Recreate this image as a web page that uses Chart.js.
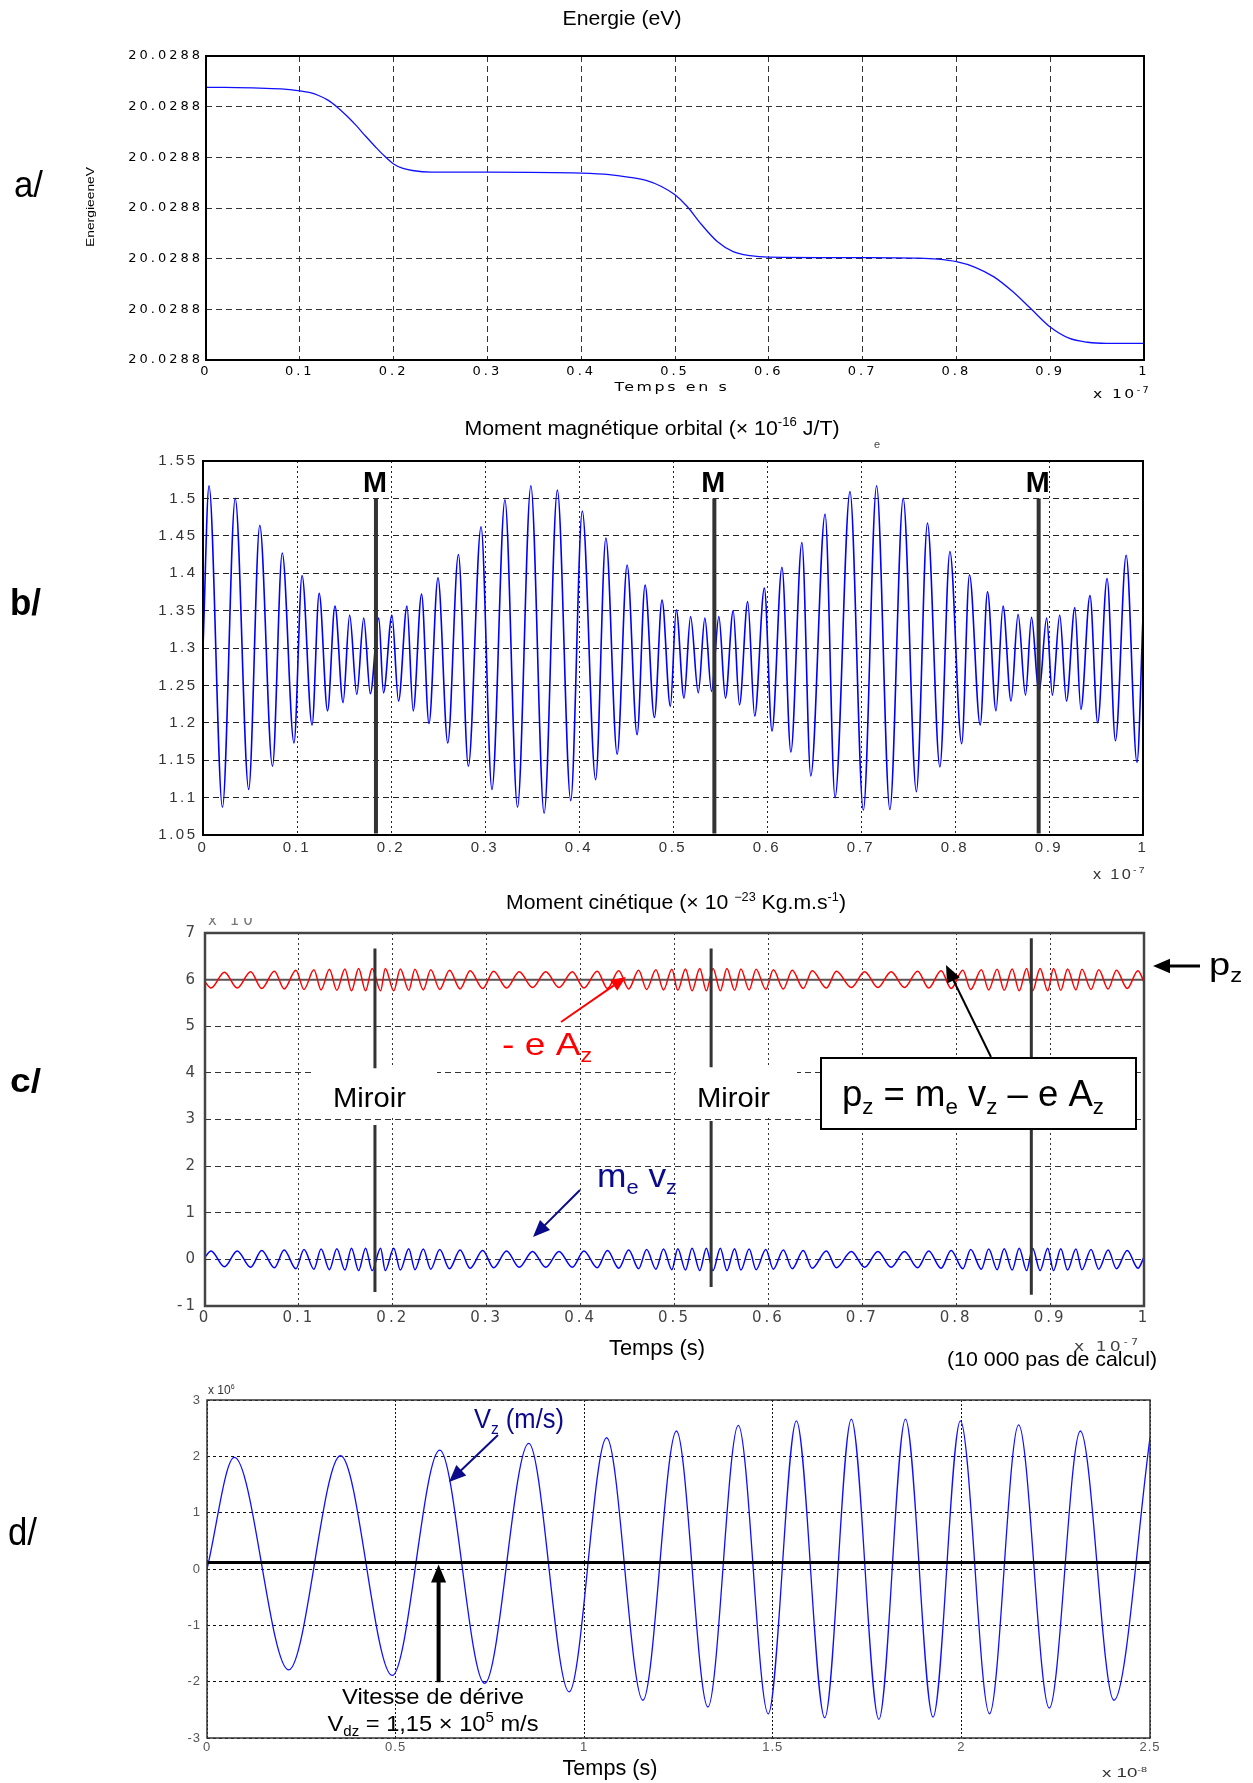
<!DOCTYPE html>
<html>
<head>
<meta charset="utf-8">
<script src="https://cdn.jsdelivr.net/npm/chart.js@4.4.1/dist/chart.umd.min.js"></script>
<style>
  html, body { margin: 0; padding: 0; background: #fff; }
  #page { position: relative; width: 1253px; height: 1783px; overflow: hidden; background: #fff; }
  canvas { position: absolute; left: 0; }
</style>
</head>
<body>
<div id="page">
  <canvas id="ca" width="1253" height="400" style="top:0px"></canvas>
  <canvas id="cb" width="1253" height="480" style="top:400px"></canvas>
  <canvas id="cc" width="1253" height="490" style="top:880px"></canvas>
  <canvas id="cd" width="1253" height="413" style="top:1370px"></canvas>
</div>
<script>
// ---- a/ Energie (levels between the 7 grid lines, all labelled 20.0288)
const energyTime = [0, 0.02, 0.05, 0.08, 0.1, 0.11, 0.12, 0.13, 0.14, 0.15,
  0.16, 0.17, 0.18, 0.19, 0.2, 0.21, 0.22, 0.24, 0.3, 0.4,
  0.43, 0.45, 0.47, 0.485, 0.5, 0.513, 0.528, 0.545, 0.562, 0.58,
  0.6, 0.7, 0.76, 0.78, 0.8, 0.82, 0.84, 0.86, 0.88, 0.9,
  0.92, 0.94, 0.96, 1.0];
const energyLevel = [5.38, 5.38, 5.37, 5.35, 5.31, 5.28, 5.22, 5.13, 4.99, 4.82,
  4.63, 4.42, 4.22, 4.03, 3.87, 3.78, 3.74, 3.71, 3.71, 3.69,
  3.66, 3.61, 3.54, 3.43, 3.26, 3.03, 2.68, 2.34, 2.14, 2.06,
  2.03, 2.02, 2.01, 1.99, 1.94, 1.83, 1.64, 1.35, 1.0, 0.65,
  0.43, 0.35, 0.33, 0.33];
const energyTickText = '20.0288';

// ---- b/ moment magnetique orbital, extrema (x 1e-7 s)
const muTime = [0, 0.0064, 0.0207, 0.0343, 0.0486, 0.0604, 0.0739, 0.0843, 0.0968, 0.1054,
  0.116, 0.1236, 0.1325, 0.1404, 0.149, 0.156, 0.1636, 0.171, 0.178, 0.187,
  0.192, 0.201, 0.208, 0.217, 0.2236, 0.2325, 0.2404, 0.25, 0.2604, 0.2717,
  0.2823, 0.2958, 0.3074, 0.3212, 0.3346, 0.3488, 0.3629, 0.377, 0.3912, 0.4035,
  0.4177, 0.4286, 0.4406, 0.4512, 0.4618, 0.4703, 0.4802, 0.4883, 0.4972, 0.5035,
  0.5117, 0.5187, 0.5269, 0.5339, 0.541, 0.5488, 0.5558, 0.564, 0.5707, 0.5795,
  0.5869, 0.5972, 0.6053, 0.6159, 0.6254, 0.6371, 0.6466, 0.6618, 0.6724, 0.6883,
  0.7025, 0.7166, 0.7307, 0.7449, 0.7589, 0.7707, 0.7839, 0.7946, 0.8071, 0.8154,
  0.8268, 0.8346, 0.8436, 0.8511, 0.8596, 0.8671, 0.875, 0.8814, 0.8893, 0.8975,
  0.9036, 0.9114, 0.9186, 0.9275, 0.9339, 0.9436, 0.9518, 0.9618, 0.9707, 0.9821,
  0.9936, 1.0];
const muValue = [1.30, 1.517, 1.087, 1.50, 1.111, 1.464, 1.142, 1.427, 1.173, 1.397,
  1.197, 1.373, 1.216, 1.356, 1.227, 1.344, 1.238, 1.34, 1.239, 1.34,
  1.24, 1.344, 1.229, 1.356, 1.216, 1.372, 1.199, 1.394, 1.173, 1.425,
  1.142, 1.462, 1.111, 1.498, 1.087, 1.517, 1.079, 1.511, 1.096, 1.483,
  1.124, 1.447, 1.158, 1.411, 1.184, 1.384, 1.207, 1.364, 1.222, 1.351,
  1.233, 1.342, 1.24, 1.34, 1.242, 1.342, 1.233, 1.35, 1.224, 1.362,
  1.209, 1.38, 1.189, 1.408, 1.161, 1.441, 1.129, 1.479, 1.1, 1.509,
  1.083, 1.517, 1.084, 1.5, 1.108, 1.467, 1.141, 1.429, 1.172, 1.398,
  1.197, 1.375, 1.216, 1.356, 1.229, 1.345, 1.237, 1.341, 1.239, 1.34,
  1.237, 1.344, 1.229, 1.354, 1.218, 1.37, 1.2, 1.393, 1.176, 1.424,
  1.147, 1.342];
const mirrorB = [0.184, 0.544, 0.889];
const mirrorBRange = [1.052, 1.5];

// ---- c/ moment cinetique (x 1e-23), same extrema instants as b/
const pTime = muTime;
const meVz = [0.05, 0.18, -0.16, 0.18, -0.17, 0.19, -0.18, 0.20, -0.20, 0.21,
  -0.21, 0.22, -0.22, 0.23, -0.23, 0.24, -0.24, 0.24, -0.24, 0.24,
  -0.24, 0.24, -0.23, 0.23, -0.22, 0.22, -0.21, 0.21, -0.20, 0.20,
  -0.19, 0.19, -0.18, 0.18, -0.17, 0.17, -0.17, 0.17, -0.17, 0.18,
  -0.18, 0.19, -0.19, 0.20, -0.20, 0.21, -0.21, 0.22, -0.22, 0.23,
  -0.23, 0.24, -0.24, 0.24, -0.24, 0.24, -0.24, 0.23, -0.23, 0.22,
  -0.22, 0.21, -0.21, 0.20, -0.20, 0.19, -0.19, 0.18, -0.18, 0.17,
  -0.17, 0.17, -0.17, 0.17, -0.18, 0.18, -0.19, 0.19, -0.20, 0.21,
  -0.21, 0.22, -0.22, 0.23, -0.23, 0.24, -0.24, 0.24, -0.24, 0.24,
  -0.24, 0.23, -0.23, 0.22, -0.22, 0.21, -0.21, 0.20, -0.20, 0.19,
  -0.19, 0.05];
const minusEAz = [5.95, 5.82, 6.16, 5.82, 6.17, 5.81, 6.18, 5.80, 6.20, 5.79,
  6.21, 5.78, 6.22, 5.77, 6.23, 5.76, 6.24, 5.76, 6.24, 5.76,
  6.24, 5.76, 6.23, 5.77, 6.22, 5.78, 6.21, 5.79, 6.20, 5.80,
  6.19, 5.81, 6.18, 5.82, 6.17, 5.83, 6.17, 5.83, 6.17, 5.82,
  6.18, 5.81, 6.19, 5.80, 6.20, 5.79, 6.21, 5.78, 6.22, 5.77,
  6.23, 5.76, 6.24, 5.76, 6.24, 5.76, 6.24, 5.77, 6.23, 5.78,
  6.22, 5.79, 6.21, 5.80, 6.20, 5.81, 6.19, 5.82, 6.18, 5.83,
  6.17, 5.83, 6.17, 5.83, 6.18, 5.82, 6.19, 5.81, 6.20, 5.79,
  6.21, 5.78, 6.22, 5.77, 6.23, 5.76, 6.24, 5.76, 6.24, 5.76,
  6.24, 5.77, 6.23, 5.78, 6.22, 5.79, 6.21, 5.80, 6.20, 5.81,
  6.19, 5.95];
const pzLevel = 6;
const mirrorC = [0.181, 0.539, 0.880];
const mirrorCUpper = [[6.67, 4.10], [6.67, 4.12], [6.89, 4.34]];
const mirrorCLower = [[2.88, -0.70], [2.97, -0.59], [2.81, -0.76]];

// ---- d/ Vz (x 1e6 m/s) against time (x 1e-8 s)
const vzTime = [0, 0.0725, 0.2165, 0.354, 0.491, 0.617, 0.736, 0.853, 0.96, 1.0595,
  1.1557, 1.2446, 1.328, 1.4085, 1.488, 1.5626, 1.6377, 1.7082, 1.7812, 1.8517,
  1.9247, 1.9973, 2.0745, 2.1517, 2.233, 2.3154, 2.4043, 2.5];
const vzValue = [0, 1.98, -1.79, 2.01, -1.89, 2.11, -2.03, 2.23, -2.18, 2.33,
  -2.33, 2.45, -2.45, 2.55, -2.57, 2.63, -2.64, 2.66, -2.67, 2.66,
  -2.63, 2.63, -2.57, 2.56, -2.47, 2.45, -2.33, 2.33];
const vdz = 0.115;
const vdzArrowAt = 0.614;

const W = 1253;
const SANS = "'Liberation Sans', Arial, sans-serif";
const WIDE = "'DejaVu Sans', sans-serif";

function pts(xs, ys) { return xs.map((x, i) => ({ x, y: ys[i] })); }
function seg(x, y1, y2) { return [{ x, y: y1 }, { x, y: y2 }]; }
function line(data, color, width, extra) {
  return Object.assign({ data, borderColor: color, borderWidth: width, pointRadius: 0, fill: false, tension: 0 }, extra || {});
}
const smooth = { cubicInterpolationMode: 'monotone' };
const num = v => String(+v.toFixed(2));

function axis(min, max, step, o) {
  return {
    type: 'linear', min, max,
    ticks: { stepSize: step, autoSkip: false, maxRotation: 0, minRotation: 0, padding: o.pad,
      color: o.color, font: o.font, callback: o.cb || num },
    grid: { color: o.grid, lineWidth: o.gw || 1, drawTicks: false },
    border: { display: false, dash: o.dash }
  };
}

// text with sub/superscripts; y is the baseline; optional width squeezes the run to fit
function rich(c, parts, x, y, o) {
  const size = o.size || 16;
  const fam = o.font || SANS;
  const wt = o.weight || 'normal';
  const sm = Math.round(size * 0.62);
  const fontOf = k => `${wt} ${k ? sm : size}px ${fam}`;
  c.save();
  c.letterSpacing = o.ls || '0px';
  let w = 0;
  for (const p of parts) { c.font = fontOf(p[1]); w += c.measureText(p[0]).width; }
  const sx = o.width ? o.width / w : 1;
  const x0 = o.align === 'center' ? x - w * sx / 2 : o.align === 'right' ? x - w * sx : x;
  c.translate(x0, y);
  c.scale(sx, 1);
  c.fillStyle = o.color || '#000';
  c.textAlign = 'left';
  c.textBaseline = 'alphabetic';
  let cx = 0;
  for (const p of parts) {
    c.font = fontOf(p[1]);
    const dy = p[1] === 'sup' ? -size * 0.42 : p[1] === 'sub' ? size * 0.22 : 0;
    c.fillText(p[0], cx, dy);
    cx += c.measureText(p[0]).width;
  }
  c.restore();
}

function arrow(c, x1, y1, x2, y2, color, w, head) {
  const a = Math.atan2(y2 - y1, x2 - x1);
  const ca = Math.cos(a), sa = Math.sin(a), hw = head * 0.42;
  c.save();
  c.strokeStyle = color; c.fillStyle = color; c.lineWidth = w;
  c.beginPath(); c.moveTo(x1, y1); c.lineTo(x2 - ca * head * 0.8, y2 - sa * head * 0.8); c.stroke();
  c.beginPath(); c.moveTo(x2, y2);
  c.lineTo(x2 - head * ca + hw * sa, y2 - head * sa - hw * ca);
  c.lineTo(x2 - head * ca - hw * sa, y2 - head * sa + hw * ca);
  c.closePath(); c.fill();
  c.restore();
}

function makeChart(id, top, h, area, cfg) {
  cfg.x.afterFit = s => { s.height = top + h - area.B; };
  cfg.y.afterFit = s => { s.width = area.L; };
  const scaleFns = chart => ({
    X: v => chart.scales.x.getPixelForValue(v),
    Y: v => chart.scales.y.getPixelForValue(v) + top
  });
  return new Chart(document.getElementById(id), {
    type: 'line',
    data: { datasets: cfg.datasets },
    options: {
      responsive: false, animation: false, devicePixelRatio: 1,
      layout: { padding: { left: 0, top: area.T - top, right: W - area.R, bottom: 0 } },
      plugins: { legend: { display: false }, tooltip: { enabled: false } },
      scales: { x: cfg.x, y: cfg.y }
    },
    plugins: [{
      id: 'deco',
      beforeDraw(chart) { chart.ctx.letterSpacing = cfg.spacing || '0px'; },
      beforeDatasetsDraw(chart) {
        if (!cfg.under) return;
        const c = chart.ctx;
        c.save(); c.letterSpacing = '0px'; c.translate(0, -top);
        cfg.under(c, scaleFns(chart)); c.restore();
      },
      afterDraw(chart) {
        const c = chart.ctx, a = chart.chartArea;
        c.save();
        c.letterSpacing = '0px';
        c.strokeStyle = cfg.frame[0]; c.lineWidth = cfg.frame[1];
        c.strokeRect(a.left, a.top, a.right - a.left, a.bottom - a.top);
        c.translate(0, -top);
        cfg.over(c, scaleFns(chart));
        c.restore();
      }
    }]
  });
}

// ---------- a/
makeChart('ca', 0, 400, { L: 206, R: 1144, T: 56, B: 360 }, {
  spacing: '3px',
  x: axis(0, 1, 0.1, { pad: 4, color: '#000', font: { family: WIDE, size: 13 }, grid: '#333', dash: [6, 4] }),
  y: axis(0, 6, 1, { pad: 3, color: '#000', font: { family: WIDE, size: 13 }, grid: '#333', dash: [6, 4], cb: () => energyTickText }),
  datasets: [line(pts(energyTime, energyLevel), '#1010ff', 1.3, smooth)],
  frame: ['#000', 2],
  over(c) {
    rich(c, [['Energie (eV)']], 622, 25, { size: 21, width: 119, align: 'center' });
    rich(c, [['a/']], 14, 197, { size: 37, width: 29 });
    c.save(); c.translate(94, 207); c.rotate(-Math.PI / 2);
    rich(c, [['EnergieeneV']], 0, 0, { size: 10, width: 80, align: 'center' });
    c.restore();
    rich(c, [['Temps en s']], 672, 391, { size: 12, font: WIDE, ls: '2px', width: 115, align: 'center' });
    rich(c, [['x 10'], ['-7', 'sup']], 1093, 398, { size: 13, font: WIDE, ls: '2px', width: 58 });
  }
});

// ---------- b/
makeChart('cb', 400, 480, { L: 203, R: 1143, T: 461, B: 835 }, {
  spacing: '2.5px',
  x: axis(0, 1, 0.1, { pad: 4, color: '#333', font: { family: SANS, size: 15 }, grid: '#222', dash: [2, 3] }),
  y: axis(1.05, 1.55, 0.05, { pad: 5.5, color: '#333', font: { family: SANS, size: 15 }, grid: '#222', dash: [6, 4] }),
  datasets: [
    ...mirrorB.map(t => line(seg(t, mirrorBRange[0], mirrorBRange[1]), '#333', 4)),
    line(pts(muTime, muValue), '#0000ff', 1.6, smooth)
  ],
  frame: ['#000', 2],
  over(c, { X, Y }) {
    rich(c, [['Moment magnétique orbital (× 10'], ['-16', 'sup'], [' J/T)']], 652, 435, { size: 21, width: 375, align: 'center' });
    rich(c, [['e']], 874, 448, { size: 11, color: '#444' });
    rich(c, [['b/']], 10, 615, { size: 36, weight: 'bold', width: 31 });
    for (const t of mirrorB) rich(c, [['M']], X(t) - 1, Y(mirrorBRange[1]) - 6, { size: 30, weight: 'bold', width: 24, align: 'center' });
    rich(c, [['x 10'], ['-7', 'sup']], 1093, 879, { size: 14, ls: '2px', width: 54, color: '#333' });
  }
});

// ---------- c/
makeChart('cc', 880, 490, { L: 205, R: 1144, T: 933, B: 1306 }, {
  spacing: '3px',
  x: axis(0, 1, 0.1, { pad: 3, color: '#444', font: { family: WIDE, size: 15 }, grid: '#333', dash: [2, 3] }),
  y: axis(-1, 7, 1, { pad: 7, color: '#444', font: { family: WIDE, size: 15 }, grid: '#333', dash: [6, 4] }),
  datasets: [
    ...mirrorC.flatMap((t, i) => [
      line(seg(t, mirrorCUpper[i][0], mirrorCUpper[i][1]), '#333', 3),
      line(seg(t, mirrorCLower[i][0], mirrorCLower[i][1]), '#333', 3)
    ]),
    line(pts(pTime, minusEAz), '#ff0000', 1.5, smooth),
    line(pts(pTime, meVz), '#0000ff', 1.5, smooth),
    line(pts([0, 1], [pzLevel, pzLevel]), '#555', 2)
  ],
  frame: ['#444', 2.5],
  under(c) {
    c.fillStyle = '#fff';
    c.fillRect(314, 1067, 123, 51);
    c.fillRect(676, 1067, 121, 51);
    c.fillRect(821, 1058, 315, 71);
  },
  over(c, { X, Y }) {
    rich(c, [['Moment cinétique (× 10 '], ['\u221223', 'sup'], [' Kg.m.s'], ['-1', 'sup'], [')']], 676, 909, { size: 20, width: 340, align: 'center' });
    c.save(); c.beginPath(); c.rect(200, 918, 80, 14); c.clip();
    rich(c, [['x 10']], 208, 925, { size: 15, font: WIDE, ls: '4px', color: '#777' });
    c.restore();
    rich(c, [['c/']], 10, 1092, { size: 34, weight: 'bold', width: 31 });
    rich(c, [['- e A'], ['z', 'sub']], 502, 1055, { size: 32, width: 90, color: '#ff0000' });
    arrow(c, 561, 1022, 626, 977, '#ff0000', 2, 15);
    rich(c, [['Miroir']], 333, 1107, { size: 28, width: 73 });
    rich(c, [['Miroir']], 697, 1107, { size: 28, width: 73 });
    c.strokeStyle = '#000'; c.lineWidth = 2;
    c.strokeRect(821, 1058, 315, 71);
    rich(c, [['p'], ['z', 'sub'], [' = m'], ['e', 'sub'], [' v'], ['z', 'sub'], [' \u2013 e A'], ['z', 'sub']], 842, 1106, { size: 36, width: 262 });
    arrow(c, 991, 1057, 946, 965, '#000', 2, 17);
    arrow(c, 1200, 966, 1153, 966, '#000', 3, 17);
    rich(c, [['p'], ['z', 'sub']], 1209, 975, { size: 32, width: 33 });
    rich(c, [['m'], ['e', 'sub'], [' v'], ['z', 'sub']], 597, 1187, { size: 34, width: 80, color: '#0a0a8a' });
    arrow(c, 580, 1190, 533, 1237, '#0a0a8a', 2, 17);
    rich(c, [['Temps (s)']], 657, 1355, { size: 22, width: 96, align: 'center' });
    rich(c, [['x 10'], ['-7', 'sup']], 1074, 1351, { size: 14, font: WIDE, ls: '2.5px', width: 67, color: '#444' });
    rich(c, [['(10 000 pas de calcul)']], 1052, 1366, { size: 21, width: 210, align: 'center' });
  }
});

// ---------- d/
makeChart('cd', 1370, 413, { L: 207, R: 1150, T: 1400, B: 1738 }, {
  spacing: '1px',
  x: axis(0, 2.5, 0.5, { pad: 2, color: '#555', font: { family: SANS, size: 13 }, grid: '#111', dash: [2, 2] }),
  y: axis(-3, 3, 1, { pad: 6, color: '#555', font: { family: SANS, size: 13 }, grid: '#111', dash: [3, 3] }),
  datasets: [
    line(pts([0, 2.5], [vdz, vdz]), '#000', 3),
    line(pts(vzTime, vzValue), '#1010ff', 1.3, smooth)
  ],
  frame: ['#333', 1.5],
  over(c, { X, Y }) {
    rich(c, [['x 10'], ['6', 'sup']], 208, 1394, { size: 12, color: '#333' });
    rich(c, [['d/']], 8, 1545, { size: 38, width: 29 });
    rich(c, [['V'], ['z', 'sub'], [' (m/s)']], 474, 1428, { size: 28, width: 90, color: '#0a0a8a' });
    arrow(c, 498, 1435, 449, 1482, '#0a0a8a', 2, 17);
    arrow(c, X(vdzArrowAt), Y(-2.01), X(vdzArrowAt), Y(vdz) + 2, '#000', 4, 18);
    rich(c, [['Vitesse de dérive']], 433, 1704, { size: 22, width: 182, align: 'center' });
    rich(c, [['V'], ['dz', 'sub'], [' = 1,15 × 10'], ['5', 'sup'], [' m/s']], 433, 1731, { size: 22, width: 211, align: 'center' });
    rich(c, [['Temps (s)']], 610, 1775, { size: 22, width: 95, align: 'center' });
    rich(c, [['x 10'], ['-8', 'sup']], 1102, 1777, { size: 12, width: 45, color: '#333' });
  }
});
</script>
</body>
</html>
